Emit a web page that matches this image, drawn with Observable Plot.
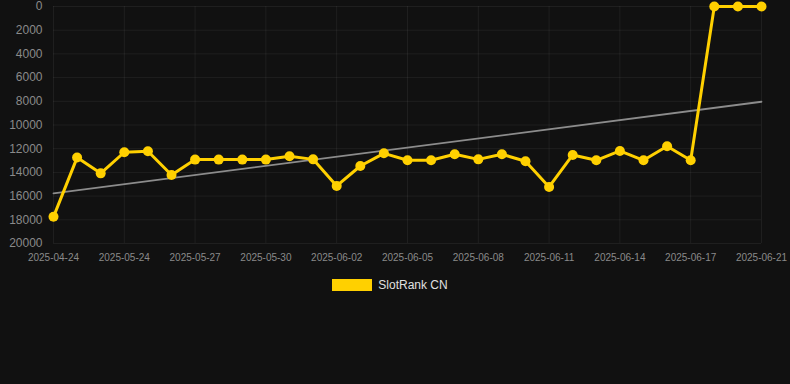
<!DOCTYPE html>
<html>
<head>
<meta charset="utf-8">
<script src="https://cdn.jsdelivr.net/npm/d3@7"></script>
<script src="https://cdn.jsdelivr.net/npm/@observablehq/plot@0.6"></script>
<style>
  html, body { margin: 0; padding: 0; background: #111111; width: 790px; height: 384px; overflow: hidden; }
  #legend { display: flex; justify-content: center; align-items: center; gap: 6px; margin-top: 8px; padding-right: 10px;
            font-family: Arial, "Liberation Sans", sans-serif; font-size: 12px; color: #e0e0e0; }
  #legend .sw { width: 40px; height: 12px; background: #FFD000; }
</style>
</head>
<body>
<div id="chart"></div>
<div id="legend"><span class="sw"></span><span id="legendLabel"></span></div>
<script>
const dates = [
  "2025-04-24","2025-05-22","2025-05-23","2025-05-24","2025-05-25","2025-05-26",
  "2025-05-27","2025-05-28","2025-05-29","2025-05-30","2025-05-31","2025-06-01",
  "2025-06-02","2025-06-03","2025-06-04","2025-06-05","2025-06-06","2025-06-07",
  "2025-06-08","2025-06-09","2025-06-10","2025-06-11","2025-06-12","2025-06-13",
  "2025-06-14","2025-06-15","2025-06-16","2025-06-17","2025-06-18","2025-06-20",
  "2025-06-21"
];
const ranks = [
  17750, 12750, 14080, 12300, 12220, 14220,
  12920, 12920, 12920, 12920, 12640, 12900,
  15140, 13460, 12390, 12980, 12980, 12470,
  12900, 12470, 13060, 15230, 12530, 12980,
  12190, 12980, 11800, 12980, 0, 0,
  0
];
const xTickIndices = [0, 3, 6, 9, 12, 15, 18, 21, 24, 27, 30];
const yTicks = [0, 2000, 4000, 6000, 8000, 10000, 12000, 14000, 16000, 18000, 20000];
const seriesName = "SlotRank CN";
const lineColor = "#FFD000";

const data = ranks.map((r, i) => ({ i, date: dates[i], rank: r }));

const chart = Plot.plot({
  width: 790,
  height: 270,
  marginTop: 6,
  marginLeft: 53,
  marginRight: 29,
  marginBottom: 27,
  style: { background: "#111111", color: "#8a8a8a", fontSize: "11px", fontFamily: "Arial, 'Liberation Sans', sans-serif" },
  x: { domain: [0, dates.length - 1], ticks: xTickIndices, tickFormat: i => dates[i], label: null, tickSize: 0, tickPadding: 10 },
  y: { domain: [0, 20000], reverse: true, ticks: yTicks, tickFormat: d => String(d), label: null, tickSize: 0, tickPadding: 11 },
  marks: [
    Plot.gridX(xTickIndices, { stroke: "#ffffff", strokeOpacity: 0.06 }),
    Plot.gridY(yTicks, { stroke: "#ffffff", strokeOpacity: 0.06 }),
    Plot.axisX({ ticks: xTickIndices, tickFormat: i => dates[i], tickSize: 0, tickPadding: 10, fontSize: 10 }),
    Plot.axisY({ ticks: yTicks, tickFormat: d => String(d), tickSize: 0, tickPadding: 11, fontSize: 12 }),
    Plot.linearRegressionY(data, { x: "i", y: "rank", stroke: "#8c8c8c", strokeWidth: 1.8, ci: 0 }),
    Plot.line(data, { x: "i", y: "rank", stroke: lineColor, strokeWidth: 3 }),
    Plot.dot(data, { x: "i", y: "rank", fill: lineColor, r: 5 })
  ]
});
document.getElementById("chart").appendChild(chart);
document.getElementById("legendLabel").textContent = seriesName;
</script>
</body>
</html>
